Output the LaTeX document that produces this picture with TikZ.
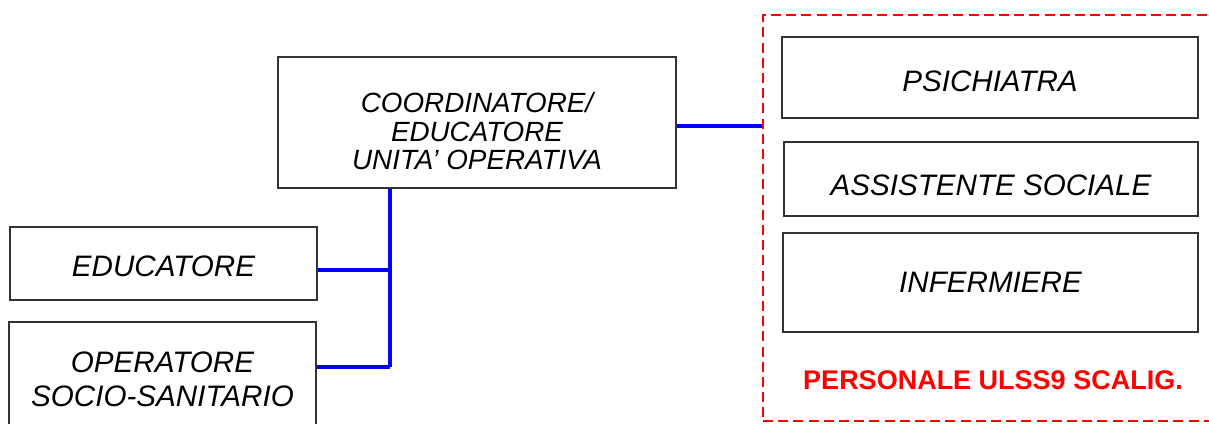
\documentclass[tikz,border=0pt]{standalone}
\usepackage{fontspec}
\setmainfont{Liberation Sans}
\usetikzlibrary{positioning}

% strut that pushes the first line down
\newcommand{\topgap}[1]{\rule{0pt}{#1}}

\begin{document}
\begin{tikzpicture}[x=0.5pt, y=-0.5pt,
 block/.style = {draw=black!80, line width=1pt, rectangle, inner sep=0pt, align=center,
                 font=\fontsize{14.8}{14.8}\selectfont\itshape},
  link/.style = {draw=blue, line width=1.6pt},
  area/.style = {draw=red, dashed, dash pattern=on 5pt off 2.6pt, line width=0.8pt,
                 rectangle, inner sep=0pt},
 alabel/.style = {text=red, font=\fontsize{13.5}{13.5}\selectfont\bfseries}
                        ]
    \clip (0,0) rectangle (1209,423);

    \node [block, minimum width=199pt, minimum height=65.5pt,
           font=\fontsize{13.9}{14.25}\selectfont\itshape] (coord) at (477,122.5)
          {\topgap{19pt}COORDINATORE/\\EDUCATORE\\UNITA’ OPERATIVA};
    \node [block, minimum width=153.5pt, minimum height=36.5pt] (edu) at (163.5,263.5)
          {\topgap{12.7pt}EDUCATORE};
    \node [block, minimum width=153.5pt, minimum height=56pt] (oss) at (162.5,378)
          {\topgap{12pt}OPERATORE\\[2.2pt]SOCIO-SANITARIO};

    % personale ULSS
    \node [area, minimum width=226pt, minimum height=203pt] (ulss) at (989,218) {};
    \node [block, minimum width=208pt, minimum height=40.5pt] (psi) at (990,77.5)
          {\topgap{13.7pt}PSICHIATRA};
    \node [block, minimum width=207pt, minimum height=37pt] (ass) at (991,179)
          {\topgap{17pt}ASSISTENTE SOCIALE};
    \node [block, minimum width=207.5pt, minimum height=49.5pt] (inf) at (990.5,282.5)
          {INFERMIERE};
    \node [alabel] (lab) at (993,380) {PERSONALE ULSS9 SCALIG.};

    \coordinate (j1) at (390,270);
    \coordinate (j2) at (390,367);

    \path[link] (coord.south -| j1)       -- (j2)
                (edu.east |- j1)          -- (j1)
                (oss.east |- j2)          -- (j2)
                ([yshift=-1.75pt]coord.east) -- ([yshift=-1.75pt]coord.east -| ulss.west)
                ;
\end{tikzpicture}
\end{document}
